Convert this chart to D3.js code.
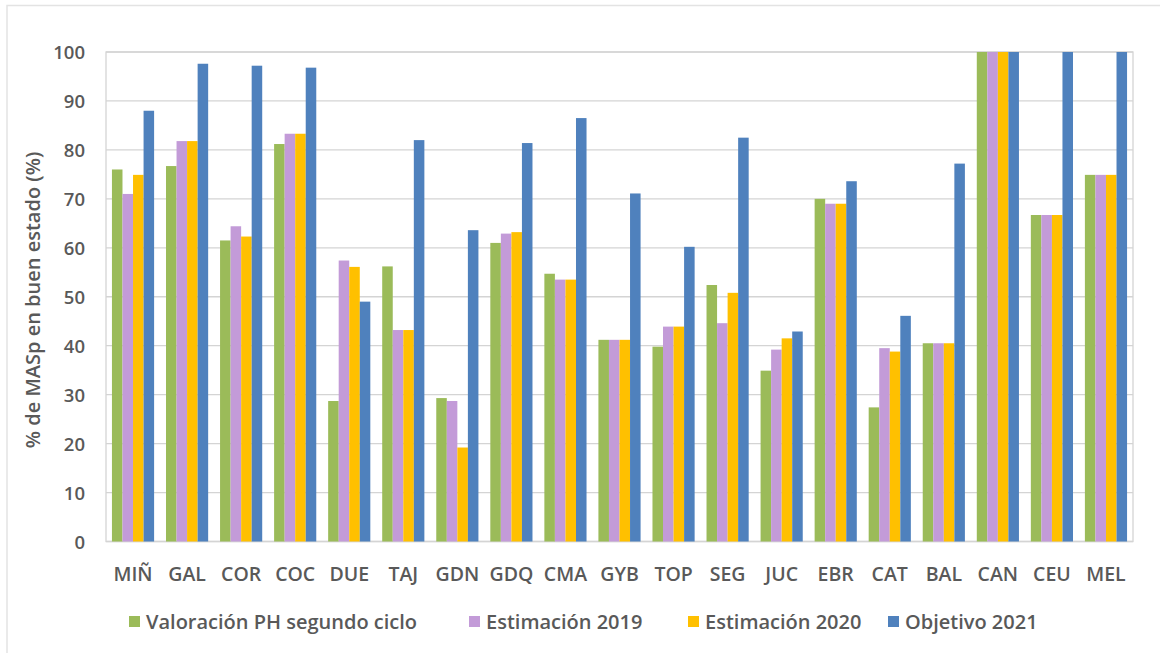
<!DOCTYPE html>
<html><head><meta charset="utf-8">
<script src="https://cdn.jsdelivr.net/npm/d3@7"></script>
<style>
html,body{margin:0;padding:0;background:#fff;}
text{font-family:"Open Sans",Lato,sans-serif;font-weight:600;fill:#595959;}
</style></head>
<body><svg id="c" width="1160" height="653"></svg>
<script>
const categories = ["MIÑ","GAL","COR","COC","DUE","TAJ","GDN","GDQ","CMA","GYB","TOP","SEG","JUC","EBR","CAT","BAL","CAN","CEU","MEL"];
const seriesNames = ["Valoración PH segundo ciclo","Estimación 2019","Estimación 2020","Objetivo 2021"];
const valoracionPH = [76.0,76.7,61.5,81.2,28.7,56.2,29.3,61.0,54.7,41.2,39.8,52.4,34.9,70.0,27.4,40.5,100,66.7,74.9];
const estimacion2019 = [71.0,81.8,64.4,83.3,57.4,43.2,28.7,62.9,53.5,41.2,43.9,44.6,39.2,69.0,39.5,40.5,100,66.7,74.9];
const estimacion2020 = [74.9,81.8,62.3,83.3,56.1,43.2,19.2,63.2,53.5,41.2,43.9,50.8,41.5,69.0,38.8,40.5,100,66.7,74.9];
const objetivo2021 = [88.0,97.6,97.2,96.8,49.0,82.0,63.6,81.4,86.5,71.1,60.2,82.5,42.9,73.6,46.1,77.2,100,100,100];
const yTicks = [0,10,20,30,40,50,60,70,80,90,100];
const colors = ["#9BBB59","#C39BD8","#FFC000","#4F81BD"];
const yTitle = "% de MASp en buen estado (%)";

const series = [valoracionPH, estimacion2019, estimacion2020, objetivo2021];
const svg = d3.select("#c");
const L = 106, R = 1133, T = 52, B = 541.5;

// outer frame
svg.append("path").attr("d","M7,653 V5.5 H1160").attr("fill","none").attr("stroke","#e3e3e3").attr("stroke-width",1.5);

const x0 = d3.scaleBand().domain(categories).range([L,R]).paddingInner(0.22).paddingOuter(0.11);
const x1 = d3.scaleBand().domain(d3.range(4)).range([0,x0.bandwidth()]);
const y = d3.scaleLinear().domain([0,100]).range([B,T]);

// gridlines
svg.append("g").selectAll("line").data(yTicks).join("line")
  .attr("x1",L).attr("x2",R).attr("y1",d=>y(d)).attr("y2",d=>y(d))
  .attr("stroke","#d4d4d4").attr("stroke-width",1.3);
svg.append("rect").attr("x",L).attr("y",T).attr("width",R-L).attr("height",B-T)
  .attr("fill","none").attr("stroke","#d4d4d4").attr("stroke-width",1.3);

// bars
const g = svg.append("g");
categories.forEach((c,i)=>{
  series.forEach((s,k)=>{
    g.append("rect").attr("x",x0(c)+x1(k)).attr("width",x1.bandwidth())
      .attr("y",y(s[i])).attr("height",y(0)-y(s[i])).attr("fill",colors[k]);
  });
});

// y axis
const ya = svg.append("g").attr("transform",`translate(${L-21},0)`)
  .call(d3.axisLeft(y).tickValues(yTicks).tickSize(0).tickPadding(0));
ya.select(".domain").remove();
ya.selectAll("text").style("font-size","18.5px").attr("dy","0.36em");

// x axis
const xa = svg.append("g").attr("transform",`translate(0,${B})`)
  .call(d3.axisBottom(x0).tickSize(0).tickPadding(0));
xa.select(".domain").remove();
xa.selectAll("text").style("font-size","19.5px").attr("y",39).attr("dy",0);

// y title
svg.append("text").attr("transform","translate(40,300) rotate(-90)")
  .attr("text-anchor","middle").style("font-size","20px").text(yTitle);

// legend
const legX = [129,469,688,888];
const leg = svg.append("g");
seriesNames.forEach((n,k)=>{
  leg.append("rect").attr("x",legX[k]).attr("y",616).attr("width",11).attr("height",11).attr("fill",colors[k]);
  leg.append("text").attr("x",legX[k]+17).attr("y",629).style("font-size","20px").text(n);
});
</script></body></html>
